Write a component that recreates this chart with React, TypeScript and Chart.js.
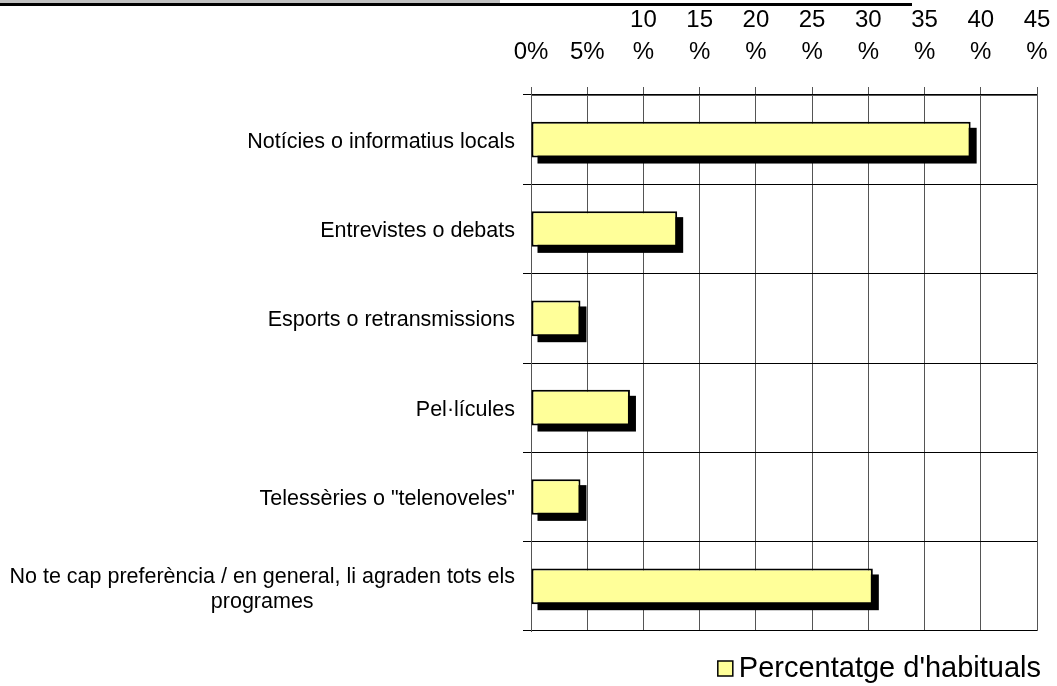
import React, { useEffect, useRef } from 'react';
import { Chart, registerables } from 'chart.js';

Chart.register(...registerables);

const categories: (string | string[])[] = [
  'Notícies o informatius locals',
  'Entrevistes o debats',
  'Esports o retransmissions',
  'Pel·lícules',
  'Telessèries o "telenoveles"',
  ['No te cap preferència / en general, li agraden tots els', 'programes'],
];
const seriesLabel = "Percentatge d'habituals";
const seriesValues = [39.1, 13.0, 4.4, 8.8, 4.4, 30.4];
const tickValues = [0, 5, 10, 15, 20, 25, 30, 35, 40, 45];
const tickLabels: (string | string[])[] = [
  '0%', '5%', ['10', '%'], ['15', '%'], ['20', '%'], ['25', '%'], ['30', '%'], ['35', '%'], ['40', '%'], ['45', '%'],
];

const FONT = '"Liberation Sans", Arial, sans-serif';
const BAR_FILL = '#FFFF99';

const shadowPlugin = {
  id: 'barShadow',
  beforeDatasetsDraw(chart: any) {
    const ctx = chart.ctx;
    const meta = chart.getDatasetMeta(0);
    ctx.save();
    ctx.fillStyle = '#000';
    meta.data.forEach((bar: any) => {
      const { x, y, base, height } = bar.getProps(['x', 'y', 'base', 'height'], true);
      ctx.fillRect(base + 6, y - height / 2 + 6, x - base, height);
    });
    ctx.restore();
  },
};

const decorPlugin = {
  id: 'decor',
  beforeDraw(chart: any) {
    const ctx = chart.ctx;
    ctx.save();
    ctx.fillStyle = '#c0c0c0';
    ctx.fillRect(0, 0, 500, 3);
    ctx.fillStyle = '#000';
    ctx.fillRect(0, 3, 912, 3);
    ctx.restore();
  },
};

const yLabelPlugin = {
  id: 'yLabels',
  afterDraw(chart: any) {
    const ctx = chart.ctx;
    const yScale = chart.scales.y;
    const right = chart.chartArea.left - 16;
    const size = 21.5;
    const lh = 25;
    ctx.save();
    ctx.font = `${size}px ${FONT}`;
    ctx.fillStyle = '#000';
    ctx.textBaseline = 'middle';
    ctx.textAlign = 'center';
    categories.forEach((cat, i) => {
      const lines = Array.isArray(cat) ? cat : [cat];
      const w = Math.max(...lines.map((l) => ctx.measureText(l).width));
      const cx = right - w / 2;
      const cy = yScale.getPixelForValue(i) + (lines.length > 1 ? 3 : 2);
      const y0 = cy - ((lines.length - 1) * lh) / 2;
      lines.forEach((l, j) => ctx.fillText(l, cx, y0 + j * lh));
    });
    ctx.restore();
  },
};

const legendPlugin = {
  id: 'customLegend',
  afterDraw(chart: any) {
    const ctx = chart.ctx;
    ctx.save();
    ctx.font = `29px ${FONT}`;
    ctx.fillStyle = '#000';
    ctx.textBaseline = 'middle';
    ctx.textAlign = 'left';
    const tw = ctx.measureText(seriesLabel).width;
    const tx = 1041 - tw;
    const cy = 669;
    ctx.fillText(seriesLabel, tx, cy);
    const bx = tx - 6 - 15;
    ctx.fillStyle = BAR_FILL;
    ctx.fillRect(bx, cy - 8, 15, 15);
    ctx.strokeStyle = '#000';
    ctx.lineWidth = 1.5;
    ctx.strokeRect(bx, cy - 8, 15, 15);
    ctx.restore();
  },
};

export default function App() {
  const ref = useRef<HTMLCanvasElement | null>(null);
  useEffect(() => {
    if (!ref.current) return;
    const chart = new Chart(ref.current, {
      type: 'bar',
      data: {
        labels: categories as any,
        datasets: [
          {
            label: seriesLabel,
            data: seriesValues,
            backgroundColor: BAR_FILL,
            borderColor: '#000',
            borderWidth: 2,
            borderSkipped: false,
            barPercentage: 0.4,
            categoryPercentage: 1,
          },
        ],
      },
      options: {
        indexAxis: 'y',
        animation: false,
        responsive: false,
        layout: { padding: { left: 0, right: 20, top: 0, bottom: 55 } },
        plugins: { legend: { display: false }, tooltip: { enabled: false } },
        scales: {
          x: {
            position: 'top',
            min: 0,
            max: 45,
            ticks: {
              stepSize: 5,
              autoSkip: false,
              maxRotation: 0,
              padding: 19,
              color: '#000',
              font: { family: FONT, size: 24, lineHeight: 1.33 },
              callback: (value: any) => {
                const idx = tickValues.indexOf(Number(value));
                return idx >= 0 ? tickLabels[idx] : '';
              },
            },
            grid: { color: '#555', tickLength: 8, drawTicks: true },
            border: { color: '#555' },
            afterFit: (s: any) => {
              s.height = 95;
              s.paddingLeft = 0;
              s.paddingRight = 0;
            },
          },
          y: {
            ticks: { display: false },
            grid: { color: '#000', offset: true, tickLength: 8, drawTicks: true },
            border: { color: '#555' },
            afterFit: (s: any) => {
              s.width = 531;
              s.paddingTop = 0;
              s.paddingBottom = 0;
            },
          },
        },
      },
      plugins: [decorPlugin, shadowPlugin, yLabelPlugin, legendPlugin],
    });
    return () => chart.destroy();
  }, []);
  return (
    <div style={{ position: 'absolute', left: 0, top: 0, width: 1057, height: 686, background: '#fff' }}>
      <canvas ref={ref} width={1057} height={686} />
    </div>
  );
}
